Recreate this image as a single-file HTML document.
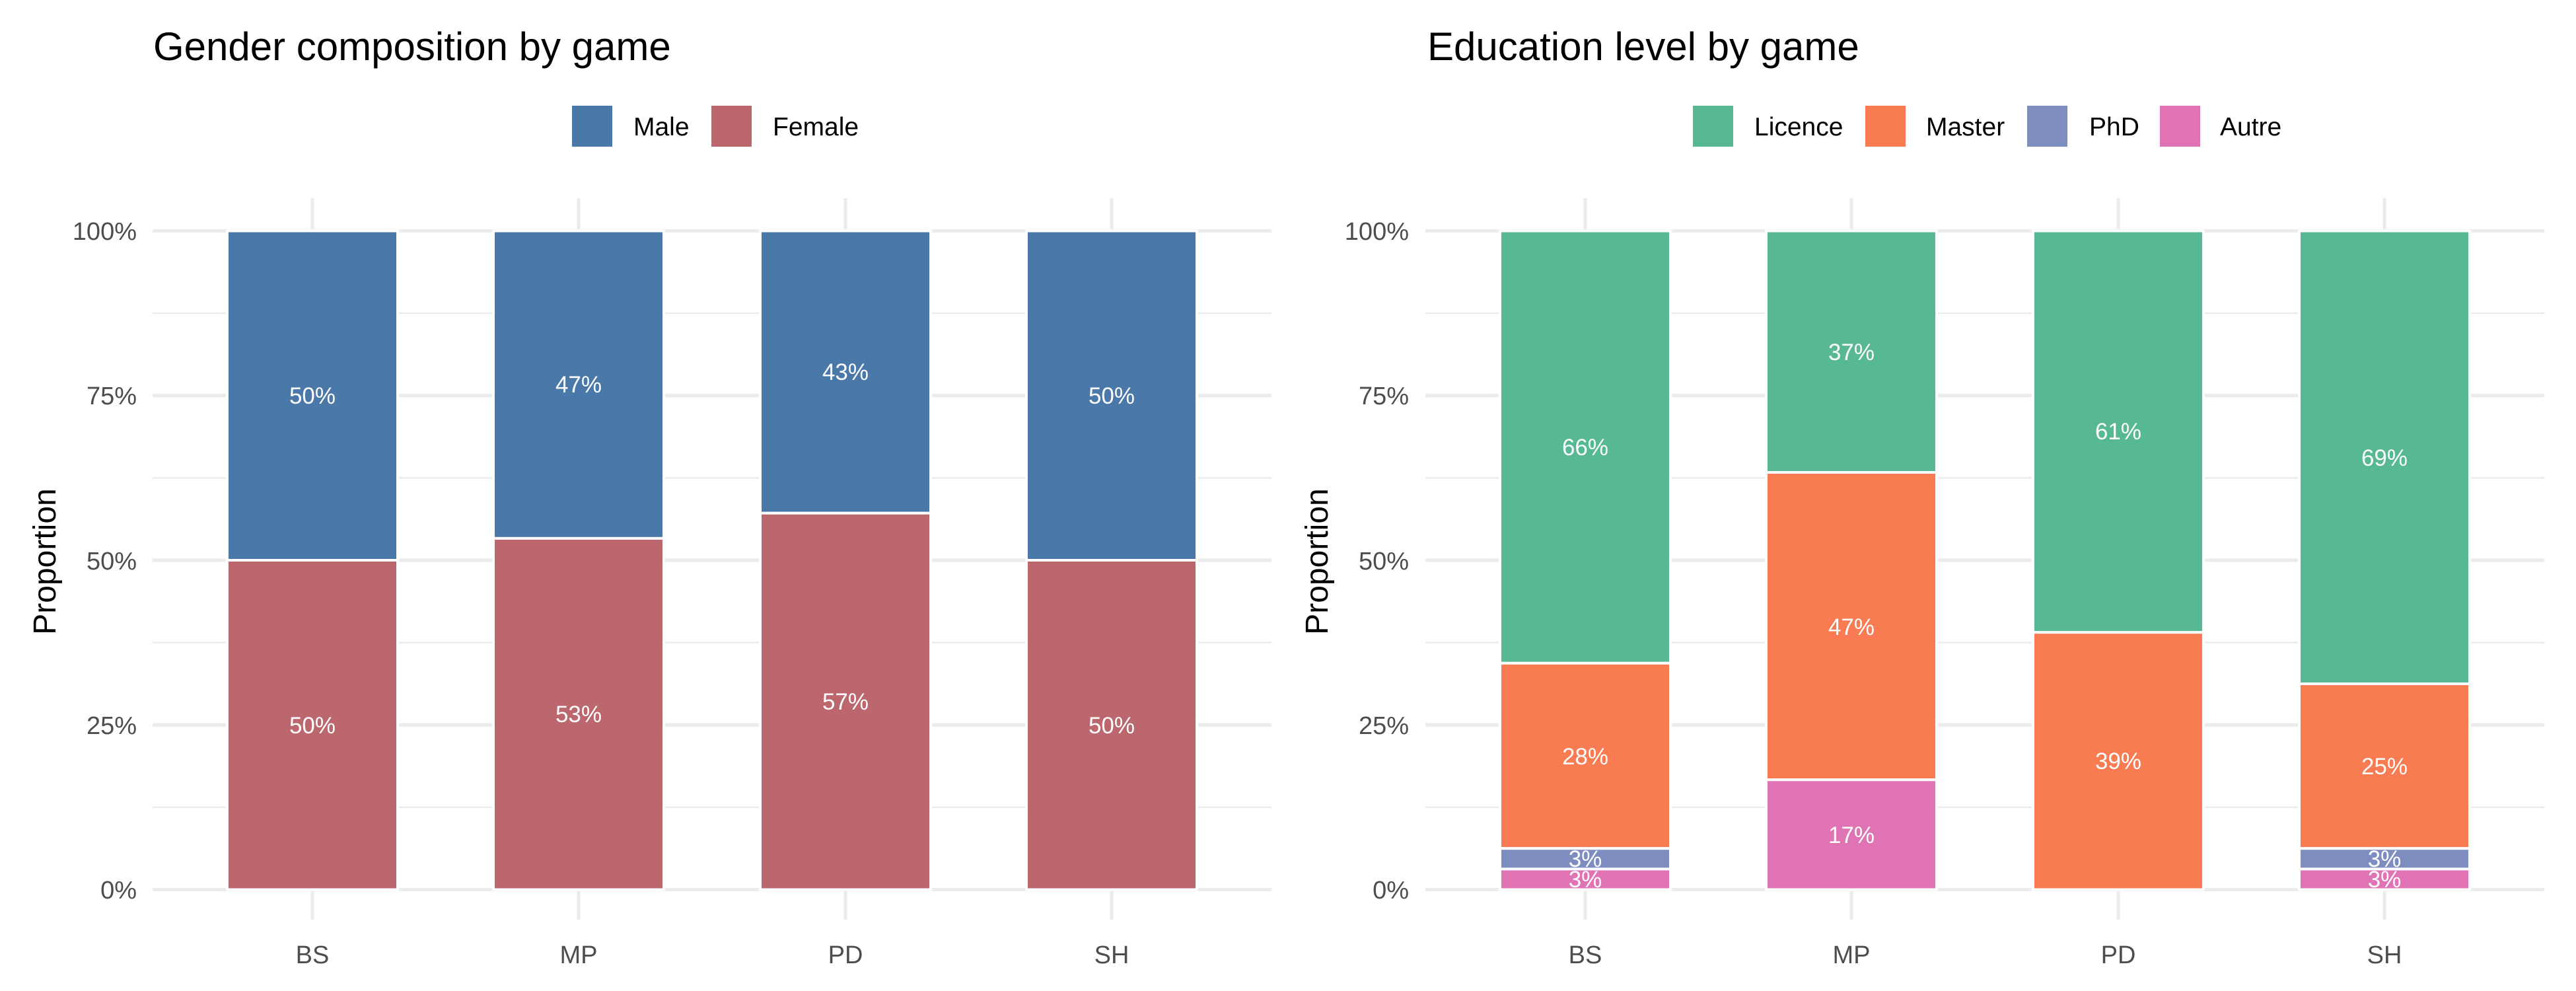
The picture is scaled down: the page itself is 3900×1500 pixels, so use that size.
<!DOCTYPE html>
<html><head><meta charset="utf-8"><style>
html,body{margin:0;padding:0;background:#fff;}
svg{display:block;font-family:"Liberation Sans",Arial,sans-serif;}
</style></head><body>
<svg width="3900" height="1500" viewBox="0 0 3900 1500" xmlns="http://www.w3.org/2000/svg">
<rect width="3900" height="1500" fill="#fff"/>
<!-- LEFT PANEL -->
<g stroke="#EBEBEB" fill="none">
 <g stroke-width="2.5">
  <line x1="231" x2="1925" y1="474.1" y2="474.1"/><line x1="231" x2="1925" y1="723.4" y2="723.4"/>
  <line x1="231" x2="1925" y1="972.6" y2="972.6"/><line x1="231" x2="1925" y1="1221.9" y2="1221.9"/>
 </g>
 <g stroke-width="5">
  <line x1="231" x2="1925" y1="349.5" y2="349.5"/><line x1="231" x2="1925" y1="598.8" y2="598.8"/>
  <line x1="231" x2="1925" y1="848" y2="848"/><line x1="231" x2="1925" y1="1097.3" y2="1097.3"/>
  <line x1="231" x2="1925" y1="1346.5" y2="1346.5"/>
  <line x1="473" x2="473" y1="300" y2="1392"/><line x1="876" x2="876" y1="300" y2="1392"/>
  <line x1="1280" x2="1280" y1="300" y2="1392"/><line x1="1683" x2="1683" y1="300" y2="1392"/>
 </g>
</g>
<g stroke="#fff" stroke-width="4">
 <rect x="344" y="349.5" width="258" height="498.5" fill="#4A78A8"/>
 <rect x="344" y="848" width="258" height="498.5" fill="#BC666E"/>
 <rect x="747" y="349.5" width="258" height="465.4" fill="#4A78A8"/>
 <rect x="747" y="814.9" width="258" height="531.6" fill="#BC666E"/>
 <rect x="1151" y="349.5" width="258" height="427.2" fill="#4A78A8"/>
 <rect x="1151" y="776.7" width="258" height="569.8" fill="#BC666E"/>
 <rect x="1554" y="349.5" width="258" height="498.5" fill="#4A78A8"/>
 <rect x="1554" y="848" width="258" height="498.5" fill="#BC666E"/>
</g>
<g fill="#fff" font-size="35" text-anchor="middle">
 <text x="473" y="611">50%</text><text x="473" y="1110">50%</text>
 <text x="876" y="594">47%</text><text x="876" y="1093">53%</text>
 <text x="1280" y="575">43%</text><text x="1280" y="1074">57%</text>
 <text x="1683" y="611">50%</text><text x="1683" y="1110">50%</text>
</g>
<g fill="#4D4D4D" font-size="38" text-anchor="end">
 <text x="207" y="363">100%</text><text x="207" y="612">75%</text><text x="207" y="862">50%</text>
 <text x="207" y="1111">25%</text><text x="207" y="1360">0%</text>
</g>
<g fill="#4D4D4D" font-size="38" text-anchor="middle">
 <text x="473" y="1458">BS</text><text x="876" y="1458">MP</text><text x="1280" y="1458">PD</text><text x="1683" y="1458">SH</text>
</g>
<text transform="translate(84,850) rotate(-90)" font-size="48" text-anchor="middle" fill="#000">Proportion</text>
<text x="232" y="91" font-size="60" fill="#000">Gender composition by game</text>
<rect x="866" y="160" width="61" height="62" fill="#4A78A8"/>
<text x="959" y="205" font-size="39" fill="#000">Male</text>
<rect x="1077" y="160" width="61" height="62" fill="#BC666E"/>
<text x="1170" y="205" font-size="39" fill="#000">Female</text>

<!-- RIGHT PANEL -->
<g stroke="#EBEBEB" fill="none">
 <g stroke-width="2.5">
  <line x1="2158" x2="3852" y1="474.1" y2="474.1"/><line x1="2158" x2="3852" y1="723.4" y2="723.4"/>
  <line x1="2158" x2="3852" y1="972.6" y2="972.6"/><line x1="2158" x2="3852" y1="1221.9" y2="1221.9"/>
 </g>
 <g stroke-width="5">
  <line x1="2158" x2="3852" y1="349.5" y2="349.5"/><line x1="2158" x2="3852" y1="598.8" y2="598.8"/>
  <line x1="2158" x2="3852" y1="848" y2="848"/><line x1="2158" x2="3852" y1="1097.3" y2="1097.3"/>
  <line x1="2158" x2="3852" y1="1346.5" y2="1346.5"/>
  <line x1="2400" x2="2400" y1="300" y2="1392"/><line x1="2803" x2="2803" y1="300" y2="1392"/>
  <line x1="3207" x2="3207" y1="300" y2="1392"/><line x1="3610" x2="3610" y1="300" y2="1392"/>
 </g>
</g>
<g stroke="#fff" stroke-width="4">
 <rect x="2271" y="349.5" width="258" height="654.3" fill="#57B994"/>
 <rect x="2271" y="1003.8" width="258" height="280.4" fill="#F87B51"/>
 <rect x="2271" y="1284.2" width="258" height="31.2" fill="#7D8DC0"/>
 <rect x="2271" y="1315.4" width="258" height="31.1" fill="#E073B4"/>
 <rect x="2674" y="349.5" width="258" height="365.5" fill="#57B994"/>
 <rect x="2674" y="715" width="258" height="465.3" fill="#F87B51"/>
 <rect x="2674" y="1180.3" width="258" height="166.2" fill="#E073B4"/>
 <rect x="3078" y="349.5" width="258" height="607.7" fill="#57B994"/>
 <rect x="3078" y="957.2" width="258" height="389.3" fill="#F87B51"/>
 <rect x="3481" y="349.5" width="258" height="685.5" fill="#57B994"/>
 <rect x="3481" y="1035" width="258" height="249.2" fill="#F87B51"/>
 <rect x="3481" y="1284.2" width="258" height="31.2" fill="#7D8DC0"/>
 <rect x="3481" y="1315.4" width="258" height="31.1" fill="#E073B4"/>
</g>
<g fill="#fff" font-size="35" text-anchor="middle">
 <text x="2400" y="689">66%</text><text x="2400" y="1157">28%</text><text x="2400" y="1312">3%</text><text x="2400" y="1343">3%</text>
 <text x="2803" y="545">37%</text><text x="2803" y="961">47%</text><text x="2803" y="1276">17%</text>
 <text x="3207" y="665">61%</text><text x="3207" y="1164">39%</text>
 <text x="3610" y="705">69%</text><text x="3610" y="1172">25%</text><text x="3610" y="1312">3%</text><text x="3610" y="1343">3%</text>
</g>
<g fill="#4D4D4D" font-size="38" text-anchor="end">
 <text x="2133" y="363">100%</text><text x="2133" y="612">75%</text><text x="2133" y="862">50%</text>
 <text x="2133" y="1111">25%</text><text x="2133" y="1360">0%</text>
</g>
<g fill="#4D4D4D" font-size="38" text-anchor="middle">
 <text x="2400" y="1458">BS</text><text x="2803" y="1458">MP</text><text x="3207" y="1458">PD</text><text x="3610" y="1458">SH</text>
</g>
<text transform="translate(2010,850) rotate(-90)" font-size="48" text-anchor="middle" fill="#000">Proportion</text>
<text x="2161" y="91" font-size="60" fill="#000">Education level by game</text>
<rect x="2563" y="160" width="61" height="62" fill="#57B994"/>
<text x="2656" y="205" font-size="39" fill="#000">Licence</text>
<rect x="2824" y="160" width="61" height="62" fill="#F87B51"/>
<text x="2916" y="205" font-size="39" fill="#000">Master</text>
<rect x="3069" y="160" width="61" height="62" fill="#7D8DC0"/>
<text x="3163" y="205" font-size="39" fill="#000">PhD</text>
<rect x="3270" y="160" width="61" height="62" fill="#E073B4"/>
<text x="3361" y="205" font-size="39" fill="#000">Autre</text>
</svg>
</body></html>
